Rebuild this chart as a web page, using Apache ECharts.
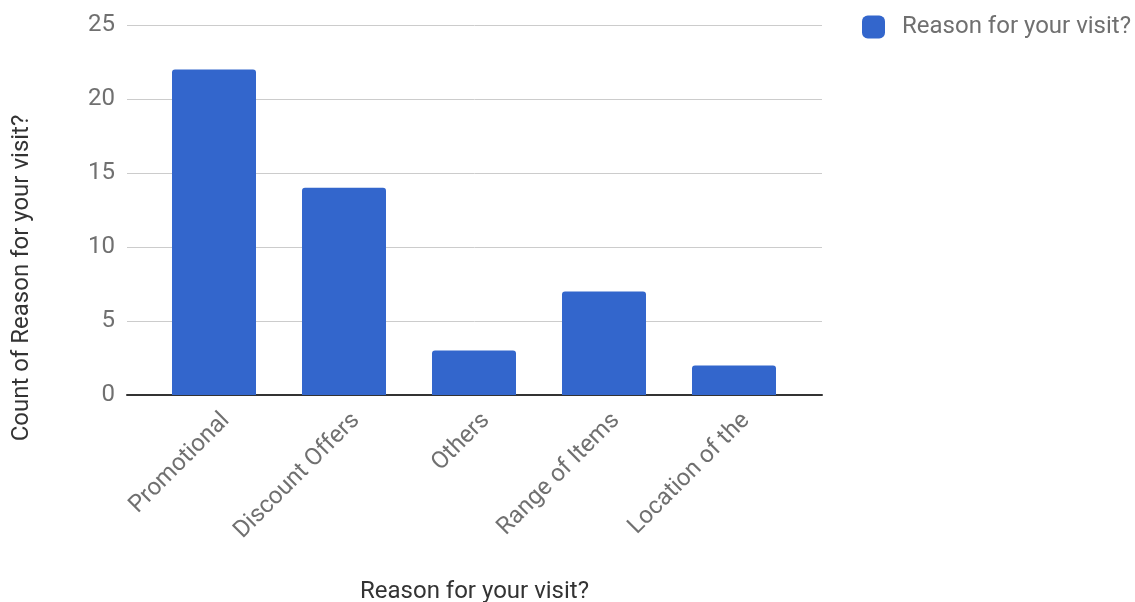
<!DOCTYPE html>
<html>
<head>
<meta charset="utf-8">
<script src="https://cdn.jsdelivr.net/npm/echarts@6/dist/echarts.min.js"></script>
<style>html,body{margin:0;padding:0;background:#fff}#c{width:1135px;height:602px}</style>
</head>
<body>
<div id="c"></div>
<script>
const categories = ['Promotional', 'Discount Offers', 'Others', 'Range of Items', 'Location of the'];
const counts = [22, 14, 3, 7, 2];
const seriesName = 'Reason for your visit?';
const yTitle = 'Count of Reason for your visit?';
const xTitle = 'Reason for your visit?';

const FONT = 'Roboto';
const FS = 24;
const TXT = '#707070';
const TITLE = '#333';
const chart = echarts.init(document.getElementById('c'));
chart.setOption({
  animation: false,
  textStyle: { fontFamily: FONT },
  grid: [
    { left: 127, right: 313, top: 25, bottom: 207, outerBoundsMode: 'none', containLabel: false },
    { left: 149, right: 336, top: 25, bottom: 207, outerBoundsMode: 'none', containLabel: false },
    { left: 161, right: 324, top: 25, bottom: 207, outerBoundsMode: 'none', containLabel: false }
  ],
  legend: {
    data: [seriesName],
    left: 862, top: 15, padding: 0,
    itemWidth: 23, itemHeight: 23,
    icon: 'roundRect',
    textStyle: { fontFamily: FONT, fontSize: FS, color: TXT, padding: [3, 0, 0, 12] }
  },
  xAxis: [
    { gridIndex: 0, type: 'category', data: categories,
      axisLine: { show: true, lineStyle: { color: '#333', width: 2 } },
      axisTick: { show: false }, axisLabel: { show: false }, splitLine: { show: false },
      name: xTitle, nameLocation: 'middle', nameGap: 185,
      nameTextStyle: { fontFamily: FONT, fontSize: FS, color: TITLE } },
    { gridIndex: 1, type: 'category', data: categories,
      axisLine: { show: false }, axisTick: { show: false }, axisLabel: { show: false } },
    { gridIndex: 2, type: 'category', data: categories,
      axisLine: { show: false }, axisTick: { show: false },
      axisLabel: { show: true, rotate: 45, margin: 22, interval: 0, fontFamily: FONT, fontSize: FS, color: TXT } }
  ],
  yAxis: [
    { gridIndex: 0, type: 'value', min: 0, max: 25, interval: 5,
      axisLine: { show: false }, axisTick: { show: false },
      axisLabel: { fontFamily: FONT, fontSize: FS, color: TXT, margin: 12 },
      splitLine: { lineStyle: { color: '#cccccc', width: 1 } } },
    { gridIndex: 1, type: 'value', min: 0, max: 25, interval: 5, show: false, splitLine: { show: false } },
    { gridIndex: 2, type: 'value', min: 0, max: 25, interval: 5, show: false, splitLine: { show: false } }
  ],
  graphic: [
    { type: 'text', x: 22, y: 278, rotation: Math.PI / 2,
      style: { text: yTitle, fontFamily: FONT, fontSize: FS, fill: TITLE, align: 'center', verticalAlign: 'middle' } }
  ],
  series: [
    { name: seriesName, type: 'bar', xAxisIndex: 1, yAxisIndex: 1, data: counts,
      barWidth: 84, itemStyle: { color: '#3366cc', borderRadius: [3, 3, 0, 0] } }
  ]
});
</script>
</body>
</html>
